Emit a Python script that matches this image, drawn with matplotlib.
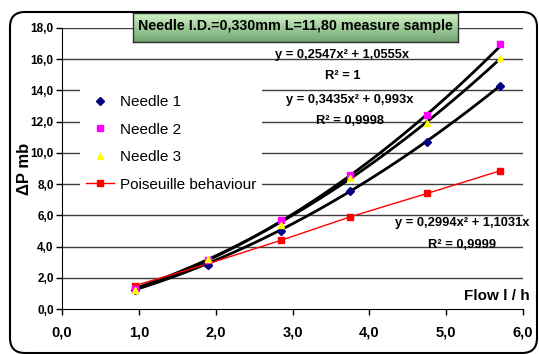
import numpy as np
import matplotlib

matplotlib.use("Agg")
import matplotlib.pyplot as plt
from matplotlib.patches import FancyBboxPatch
from matplotlib.transforms import IdentityTransform

plt.rcParams["font.family"] = ["Liberation Sans", "DejaVu Sans"]

# data
flow = [0.95, 1.9, 2.85, 3.75, 4.75, 5.7]
needle_1 = [1.2, 2.85, 5.0, 7.55, 10.7, 14.3]
needle_2 = [1.25, 3.15, 5.7, 8.6, 12.4, 16.95]
needle_3 = [1.2, 3.2, 5.4, 8.4, 11.9, 16.1]
poiseuille = [1.5, 2.9, 4.4, 5.9, 7.4, 8.85]

# trendline coefficients (a, b) for y = a*x^2 + b*x, as printed on the chart
trend_coefs = [(0.2547, 1.0555), (0.3435, 0.993), (0.2994, 1.1031)]
trend_labels = [
    ("y = 0,2547x² + 1,0555x", "R² = 1"),
    ("y = 0,3435x² + 0,993x", "R² = 0,9998"),
    ("y = 0,2994x² + 1,1031x", "R² = 0,9999"),
]
trend_label_pos = [(3.65, 16.3, 14.9), (3.75, 13.4, 12.05), (5.21, 5.5, 4.1)]

x_ticks = np.arange(0, 6.01, 1.0)
y_ticks = np.arange(0, 18.01, 2.0)


def fmt(v):
    return f"{v:.1f}".replace(".", ",")


W, H = 539, 354
fig = plt.figure(figsize=(W / 100, H / 100), dpi=100)
ax = fig.add_axes([62 / W, 1 - 309 / H, 461 / W, 281 / H])

ax.set_xlim(0, 6)
ax.set_ylim(0, 18)
for y in y_ticks[1:]:
    ax.axhline(y, color="#404040", linewidth=1.0, zorder=0)

# trendlines
xs = np.linspace(flow[0], flow[-1], 100)
for a, b in trend_coefs:
    ax.plot(xs, a * xs**2 + b * xs, color="black", linewidth=2.0, zorder=3)

ax.plot(flow, poiseuille, color="red", linewidth=1.0, marker="s", markersize=5,
        markeredgecolor="red", label="Poiseuille behaviour", zorder=4)
ax.plot(flow, needle_1, linestyle="none", marker="D", markersize=3.8, color="#000080",
        label="Needle 1", zorder=5)
ax.plot(flow, needle_2, linestyle="none", marker="s", markersize=4.5, color="#ff00ff",
        label="Needle 2", zorder=5)
ax.plot(flow, needle_3, linestyle="none", marker="^", markersize=5, color="#ffff00",
        label="Needle 3", zorder=5)

for (eq, r2), (x, ye, yr) in zip(trend_labels, trend_label_pos):
    ax.text(x, ye, eq, ha="center", va="center", fontsize=9.3, fontweight="bold", zorder=6)
    ax.text(x, yr, r2, ha="center", va="center", fontsize=9.3, fontweight="bold", zorder=6)

handles, labels = ax.get_legend_handles_labels()
order = [1, 2, 3, 0]
leg = ax.legend([handles[i] for i in order], [labels[i] for i in order],
                loc="upper left", bbox_to_anchor=(0.039, 0.782), borderaxespad=0,
                frameon=True, framealpha=1, edgecolor="none", fancybox=False, fontsize=11,
                handlelength=1.8, handletextpad=0.4, labelspacing=0.88, borderpad=0.4)
leg.set_zorder(7)

ax.set_xticks(x_ticks)
ax.set_xticklabels([fmt(v) for v in x_ticks], fontsize=10.5, fontweight="bold")
ax.set_yticks(y_ticks)
ax.set_yticklabels([fmt(v) for v in y_ticks], fontsize=8.5, fontweight="bold")
ax.tick_params(axis="both", direction="out", length=4, width=1, color="black")
ax.tick_params(axis="x", pad=8)
ax.tick_params(axis="y", pad=2)
ax.spines["top"].set_visible(False)
ax.spines["right"].set_visible(False)

ax.set_ylabel("ΔP mb", fontsize=12, fontweight="bold")
ax.yaxis.set_label_coords(-0.066, 0.5)
ax.text(1.015, 0.046, "Flow l / h", transform=ax.transAxes, ha="right", va="center",
        fontsize=11, fontweight="bold")

# title box with green gradient
tax = fig.add_axes([133 / W, 1 - 42 / H, 325 / W, 29 / H])
grad = np.linspace(0, 1, 50).reshape(-1, 1)
top = np.array([0.82, 0.96, 0.78])
bot = np.array([0.44, 0.64, 0.44])
img = top[None, None, :] * (1 - grad[:, :, None]) + bot[None, None, :] * grad[:, :, None]
tax.imshow(img, aspect="auto", extent=(0, 1, 0, 1))
tax.set_xticks([])
tax.set_yticks([])
for s in tax.spines.values():
    s.set_color("#303030")
    s.set_linewidth(1.0)
tax.text(0.5, 0.55, "Needle I.D.=0,330mm L=11,80 measure sample", ha="center", va="center",
         fontsize=10.3, fontweight="bold", transform=tax.transAxes)

# rounded outer frame (pixel coordinates, origin bottom-left)
frame = FancyBboxPatch((10, 1), 527, 341, boxstyle="round,pad=0,rounding_size=15",
                       transform=IdentityTransform(), facecolor="none", edgecolor="black",
                       linewidth=1.5)
fig.patches.append(frame)

fig.savefig("out.png", dpi=100)
